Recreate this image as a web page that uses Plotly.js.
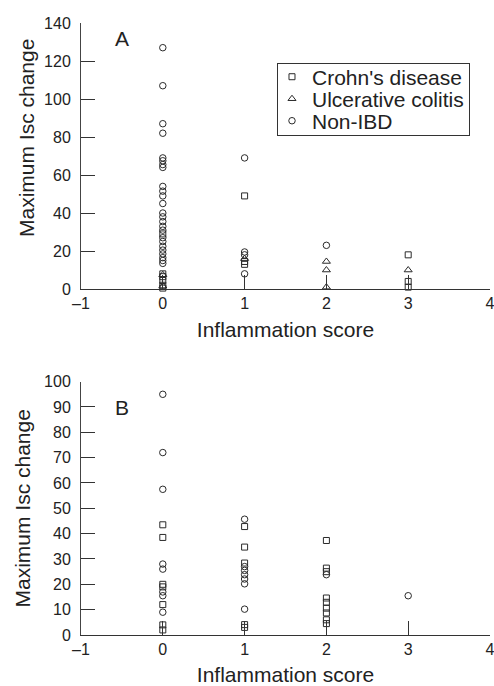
<!DOCTYPE html>
<html>
<head>
<meta charset="utf-8">
<script src="https://cdn.plot.ly/plotly-3.0.1.min.js"></script>
<style>html,body{margin:0;padding:0;background:#fff;}</style>
</head>
<body>
<div id="chart" style="width:494px;height:686px;"></div>
<script>
// ---- Tick labels ----
const xTickVals = [-1, 0, 1, 2, 3, 4];
const xTickText = ['\u20131', '0', '1', '2', '3', '4'];
const yTicksA = [0, 20, 40, 60, 80, 100, 120, 140];
const yTicksB = [0, 10, 20, 30, 40, 50, 60, 70, 80, 90, 100];

// ---- Panel A data ----
const aCrohnScore = [0, 0, 0, 0, 0, 0, 1, 1, 1, 3, 3, 3];
const aCrohnValue = [29, 8, 6.5, 4.5, 2, 0.5, 49, 14.5, 13, 18, 4, 1];
const aUCScore = [0, 0, 1, 2, 2, 2, 3];
const aUCValue = [7.5, 1.5, 16, 14.5, 10, 1, 10];
const aNonScore = [0, 0, 0, 0, 0, 0, 0, 0, 0, 0, 0, 0, 0, 0, 0, 0, 0, 0, 0, 0, 0, 0, 0, 0, 0,
                   1, 1, 1, 1, 2];
const aNonValue = [127, 107, 87, 82, 69, 67.5, 65.5, 64, 54, 51.5, 49, 45, 40, 38, 35.5, 33, 31,
                   27, 25, 22.5, 20.5, 18.5, 16.5, 15, 13.5,
                   69, 19.5, 18, 8, 23];

// ---- Panel B data ----
const bCrohnScore = [0, 0, 0, 0, 0, 0, 0, 1, 1, 1, 1, 1, 2, 2, 2, 2, 2, 2, 2, 2, 2];
const bCrohnValue = [43.5, 38.5, 20, 19, 12, 4, 2, 42.8, 34.7, 28.4, 4.1, 3,
                     37.3, 26.4, 25, 14.6, 12.9, 10.6, 8.7, 6, 4.5];
const bNonScore = [0, 0, 0, 0, 0, 0, 0, 0, 1, 1, 1, 1, 1, 1, 1, 2, 3];
const bNonValue = [95, 72, 57.5, 28, 26, 17, 15.5, 9, 45.7, 27, 25.5, 23.8, 22.1, 20.2, 10.2, 23.8, 15.5];

const seriesNames = ["Crohn's disease", 'Ulcerative colitis', 'Non-IBD'];
const xTitle = 'Inflammation score';
const yTitle = 'Maximum Isc change';

const ink = '#2a2a2a';
function mk(sym, size) {
  return {symbol: sym, size: size, color: ink, line: {color: ink, width: 1}};
}

const traces = [
  {x: aCrohnScore, y: aCrohnValue, name: seriesNames[0], type: 'scatter', mode: 'markers',
   marker: mk('square-open', 6), xaxis: 'x', yaxis: 'y', cliponaxis: false, legendgroup: 'cd'},
  {x: aUCScore, y: aUCValue, name: seriesNames[1], type: 'scatter', mode: 'markers',
   marker: mk('triangle-up-open', 7), xaxis: 'x', yaxis: 'y', cliponaxis: false, legendgroup: 'uc'},
  {x: aNonScore, y: aNonValue, name: seriesNames[2], type: 'scatter', mode: 'markers',
   marker: mk('circle-open', 6.5), xaxis: 'x', yaxis: 'y', cliponaxis: false, legendgroup: 'non'},
  {x: bCrohnScore, y: bCrohnValue, name: seriesNames[0], type: 'scatter', mode: 'markers',
   marker: mk('square-open', 6), xaxis: 'x2', yaxis: 'y2', cliponaxis: false, showlegend: false, legendgroup: 'cd'},
  {x: bNonScore, y: bNonValue, name: seriesNames[2], type: 'scatter', mode: 'markers',
   marker: mk('circle-open', 6.5), xaxis: 'x2', yaxis: 'y2', cliponaxis: false, showlegend: false, legendgroup: 'non'}
];

const fontFam = 'Liberation Sans, Arial, Helvetica, sans-serif';
function xAxis(anchor) {
  return {
    anchor: anchor, domain: [0, 1], range: [-1, 4.0001], tickvals: xTickVals, ticktext: xTickText,
    ticks: 'inside', ticklen: 14, tickwidth: 1, tickcolor: '#333', ticklabeloverflow: 'allow',
    showline: true, linecolor: '#333', linewidth: 1, showgrid: false, zeroline: false,
    tickfont: {size: 16, color: '#222'}, automargin: false, fixedrange: true,
    title: {text: xTitle, font: {size: 21, color: '#222'}, standoff: 11}
  };
}
function yAxis(anchor, domain, range, ticks, withTitle) {
  const ax = {
    anchor: anchor, domain: domain, range: range, tickvals: ticks,
    ticks: 'inside', ticklen: 14, tickwidth: 1, tickcolor: '#333',
    showline: true, linecolor: '#444', linewidth: 1, showgrid: false, zeroline: false,
    tickfont: {size: 16, color: '#222'}, automargin: false, fixedrange: true, ticklabelstandoff: 6
  };
  if (withTitle) ax.title = {text: yTitle, font: {size: 21, color: '#222'}, standoff: 7};
  return ax;
}

const layout = {
  width: 494, height: 686,
  margin: {l: 81, r: 4, t: 23, b: 51, pad: 0},
  paper_bgcolor: '#fff', plot_bgcolor: '#fff',
  font: {family: fontFam, color: '#222'},
  showlegend: true,
  legend: {x: 0.4792, y: 0.9351, xanchor: 'left', yanchor: 'top', bordercolor: '#333', borderwidth: 1,
           bgcolor: '#fff', font: {size: 21, color: '#222'}, itemwidth: 30, tracegroupgap: 0,
           traceorder: 'normal'},
  xaxis: xAxis('y'),
  yaxis: yAxis('x', [0.5653, 1], [0, 140], yTicksA, false),
  xaxis2: xAxis('y2'),
  yaxis2: yAxis('x2', [0, 0.414], [0, 100], yTicksB, true),
  annotations: [
    {text: yTitle, xref: 'paper', yref: 'paper', x: -0.1345, y: 0.812, xanchor: 'center', yanchor: 'middle',
     textangle: -90, showarrow: false, font: {size: 21, color: '#222'}},
    {text: 'A', x: -0.5, y: 132, xref: 'x', yref: 'y', showarrow: false, font: {size: 21, color: '#222'}},
    {text: 'B', x: -0.5, y: 89.6, xref: 'x2', yref: 'y2', showarrow: false, font: {size: 21, color: '#222'}}
  ]
};

Plotly.newPlot('chart', traces, layout, {displayModeBar: false, staticPlot: true}).then(function (gd) {
  // tighten legend rows to the reference's line spacing
  try {
    const leg = gd.querySelector('g.legend');
    const items = leg.querySelectorAll('g.traces');
    const rowGap = 22, firstRow = 14, shiftX = -6;
    items.forEach(function (g, i) {
      const m = /translate\(\s*([-\d.e]+)[ ,]+([-\d.e]+)\s*\)/.exec(g.getAttribute('transform') || '');
      const x0 = m ? parseFloat(m[1]) : 1;
      g.setAttribute('transform', 'translate(' + (x0 + shiftX) + ',' + (firstRow + rowGap * i) + ')');
    });
    const bg = leg.querySelector('rect.bg');
    if (bg) {
      const w = parseFloat(bg.getAttribute('width'));
      bg.setAttribute('height', firstRow + rowGap * (items.length - 1) + 14);
      bg.setAttribute('width', w + shiftX);
    }
  } catch (e) {}
});
</script>
</body>
</html>
